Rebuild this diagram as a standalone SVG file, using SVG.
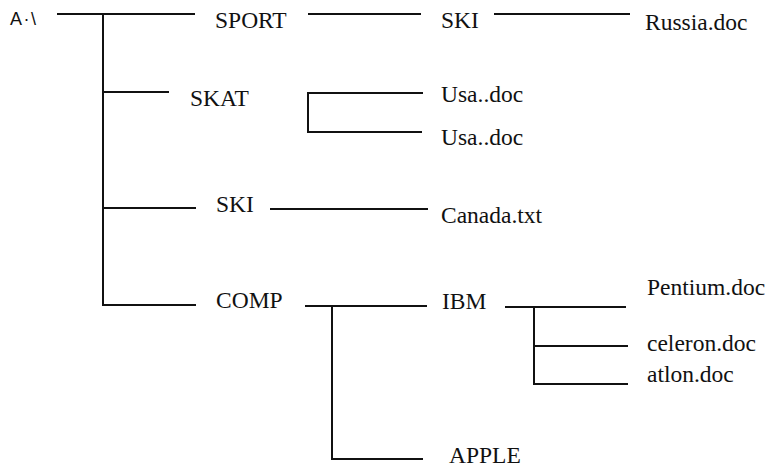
<svg xmlns="http://www.w3.org/2000/svg" width="769" height="468" viewBox="0 0 769 468">
<style>
.t{font-family:"Liberation Serif","Times New Roman",serif;font-size:23.5px;fill:#111}
.root{font-family:"Liberation Sans",Arial,sans-serif;font-size:18px;fill:#111;letter-spacing:1.5px}
.c path{fill:none;stroke:#111;stroke-width:2}
</style>
<rect width="769" height="468" fill="#fff"/>
<g class="c" id="connectors">
<path d="M57 14H195M103 14V306"/>
<path d="M308 14H421"/>
<path d="M494 14H630"/>
<path d="M103 92H169"/>
<path d="M423 93H308V132H422"/>
<path d="M103 208H196"/>
<path d="M270 209H428"/>
<path d="M103 305H196"/>
<path d="M305 306H427M332 306V459H423"/>
<path d="M505 307H626M534 307V384H628M534 346H628"/>
</g>
<g id="root"><text class="root" x="10" y="25">A·\</text></g>
<g id="sport"><text class="t" x="215" y="28">SPORT</text></g>
<g id="ski1"><text class="t" x="441" y="28">SKI</text></g>
<g id="russia"><text class="t" x="645" y="30">Russia.doc</text></g>
<g id="skat"><text class="t" x="190" y="106">SKAT</text></g>
<g id="usa1"><text class="t" x="441" y="102">Usa..doc</text></g>
<g id="usa2"><text class="t" x="441" y="145">Usa..doc</text></g>
<g id="ski2"><text class="t" x="216" y="212">SKI</text></g>
<g id="canada"><text class="t" x="441" y="223">Canada.txt</text></g>
<g id="comp"><text class="t" x="216" y="308">COMP</text></g>
<g id="ibm"><text class="t" x="442" y="309">IBM</text></g>
<g id="apple"><text class="t" x="449" y="463">APPLE</text></g>
<g id="pentium"><text class="t" x="647" y="295">Pentium.doc</text></g>
<g id="celeron"><text class="t" x="647" y="351">celeron.doc</text></g>
<g id="atlon"><text class="t" x="647" y="382">atlon.doc</text></g>
</svg>
